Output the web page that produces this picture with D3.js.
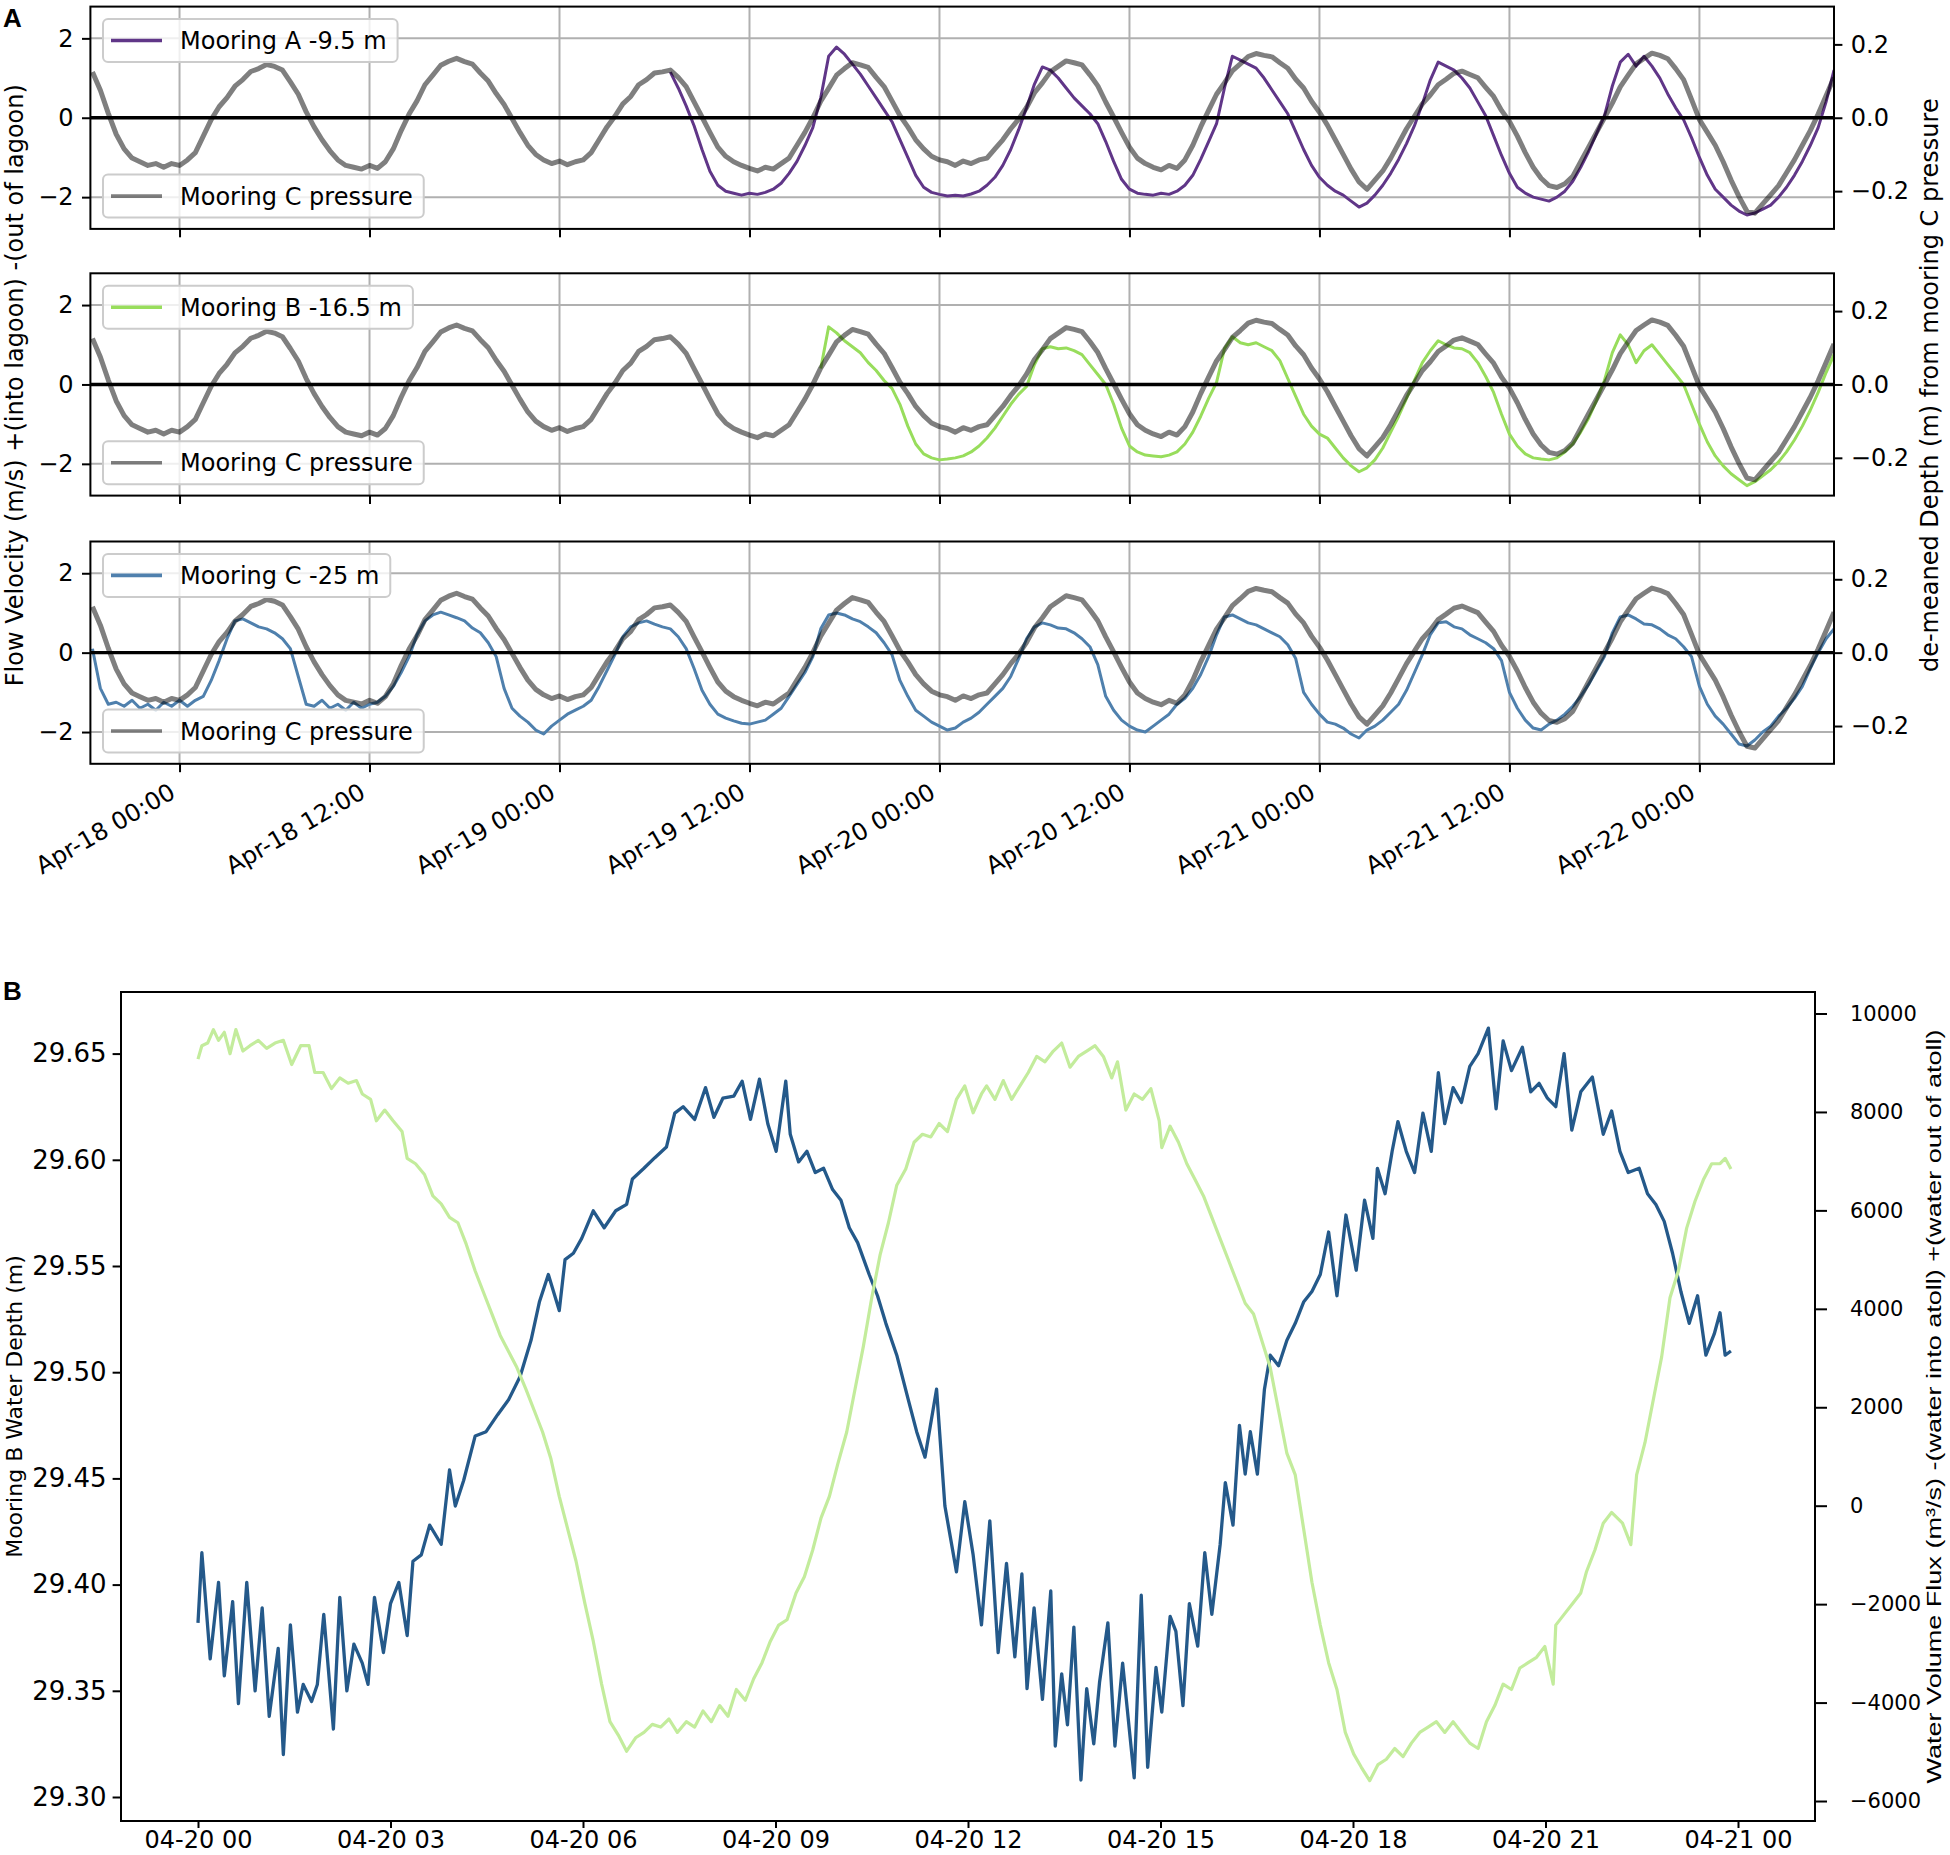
<!DOCTYPE html>
<html>
<head>
<meta charset="utf-8">
<script src="https://cdn.jsdelivr.net/npm/d3@7"></script>
<style>
  body { margin: 0; background: #fff; }
  text { font-family: "DejaVu Sans", sans-serif; }
</style>
</head>
<body>
<svg id="fig" width="1950" height="1855"></svg>
<script>
// ---- panel A data: half-hourly samples, hours counted from Apr-18 00:00 ----
const stepA = 0.5;
const pressureStart = -5.5;
const pressureC = [
  0.125, 0.075, 0.012, -0.045, -0.085, -0.11, -0.12, -0.13, -0.125, -0.135, -0.125,
  -0.13, -0.115, -0.095, -0.05, -0.005, 0.03, 0.055, 0.086, 0.104, 0.126, 0.134,
  0.145, 0.14, 0.13, 0.098, 0.064, 0.016, -0.025, -0.06, -0.09, -0.115, -0.13,
  -0.135, -0.14, -0.13, -0.138, -0.12, -0.085, -0.035, 0.01, 0.046, 0.09, 0.116,
  0.143, 0.154, 0.162, 0.153, 0.146, 0.122, 0.1, 0.066, 0.036, -0.002, -0.04,
  -0.075, -0.1, -0.115, -0.125, -0.118, -0.128, -0.12, -0.115, -0.095, -0.06, -0.025,
  0.004, 0.038, 0.058, 0.09, 0.104, 0.122, 0.125, 0.13, 0.11, 0.085, 0.043,
  0.002, -0.04, -0.08, -0.105, -0.12, -0.13, -0.138, -0.145, -0.135, -0.14, -0.125,
  -0.11, -0.075, -0.04, 0.0, 0.045, 0.08, 0.116, 0.134, 0.15, 0.144, 0.137,
  0.11, 0.085, 0.046, 0.006, -0.025, -0.06, -0.085, -0.105, -0.115, -0.12, -0.13,
  -0.118, -0.125, -0.115, -0.11, -0.085, -0.06, -0.03, -0.004, 0.028, 0.068, 0.095,
  0.125, 0.14, 0.155, 0.15, 0.144, 0.117, 0.087, 0.043, 0.002, -0.04, -0.08,
  -0.11, -0.125, -0.135, -0.142, -0.13, -0.138, -0.115, -0.075, -0.025, 0.02, 0.064,
  0.095, 0.128, 0.147, 0.167, 0.175, 0.17, 0.166, 0.15, 0.135, 0.105, 0.081,
  0.045, 0.015, -0.02, -0.06, -0.1, -0.14, -0.175, -0.195, -0.17, -0.145, -0.11,
  -0.07, -0.03, 0.004, 0.038, 0.062, 0.09, 0.105, 0.121, 0.127, 0.118, 0.109,
  0.083, 0.058, 0.02, -0.01, -0.05, -0.095, -0.135, -0.165, -0.185, -0.19, -0.18,
  -0.16, -0.12, -0.08, -0.04, 0.0, 0.04, 0.084, 0.116, 0.147, 0.162, 0.176,
  0.17, 0.161, 0.134, 0.104, 0.05, -0.005, -0.04, -0.075, -0.12, -0.17, -0.215,
  -0.255, -0.26, -0.235, -0.21, -0.185, -0.15, -0.115, -0.075, -0.035, 0.01, 0.06, 0.11
];

const velocityAStart = 31.0;
const velocityA = [
  1.15, 0.75, 0.3, -0.2, -0.8, -1.35, -1.7, -1.85, -1.9, -1.95, -1.9, -1.93, -1.88,
  -1.8, -1.65, -1.4, -1.1, -0.7, -0.25, 0.5, 1.55, 1.78, 1.6, 1.35, 1.1, 0.8,
  0.5, 0.2, -0.1, -0.55, -1.0, -1.45, -1.75, -1.88, -1.93, -1.97, -1.95, -1.97, -1.92,
  -1.85, -1.7, -1.5, -1.2, -0.8, -0.3, 0.25, 0.85, 1.28, 1.2, 1.0, 0.75, 0.5,
  0.3, 0.1, -0.15, -0.6, -1.1, -1.55, -1.8, -1.9, -1.93, -1.95, -1.9, -1.93, -1.85,
  -1.7, -1.45, -1.05, -0.6, -0.15, 0.75, 1.55, 1.45, 1.35, 1.25, 1.0, 0.7, 0.4,
  0.1, -0.35, -0.8, -1.2, -1.5, -1.7, -1.85, -1.95, -2.1, -2.25, -2.15, -1.95, -1.7,
  -1.4, -1.05, -0.65, -0.2, 0.35, 0.95, 1.4, 1.3, 1.2, 1.0, 0.75, 0.4, 0.05,
  -0.45, -0.95, -1.4, -1.75, -1.9, -2.0, -2.05, -2.1, -2.0, -1.85, -1.6, -1.25, -0.85,
  -0.4, 0.05, 0.8, 1.4, 1.6, 1.3, 1.55, 1.3, 1.0, 0.6, 0.25, -0.05, -0.5,
  -1.0, -1.45, -1.8, -2.0, -2.2, -2.35, -2.45, -2.4, -2.3, -2.2, -2.0, -1.75, -1.45,
  -1.1, -0.7, -0.25, 0.4, 1.2
];

const velocityBStart = 40.5;
const velocityB = [
  0.4, 1.45, 1.3, 1.1, 0.95, 0.8, 0.55, 0.35, 0.1, -0.1, -0.5, -1.05, -1.5,
  -1.75, -1.85, -1.9, -1.88, -1.85, -1.8, -1.7, -1.55, -1.35, -1.1, -0.8, -0.5, -0.25,
  -0.05, 0.5, 0.9, 0.95, 0.9, 0.92, 0.85, 0.75, 0.5, 0.25, 0.0, -0.5, -1.1,
  -1.55, -1.7, -1.78, -1.8, -1.82, -1.78, -1.7, -1.5, -1.2, -0.8, -0.35, 0.05, 0.9,
  1.2, 1.05, 1.0, 1.05, 0.95, 0.85, 0.6, 0.15, -0.3, -0.75, -1.05, -1.25, -1.35,
  -1.6, -1.85, -2.05, -2.2, -2.1, -1.9, -1.6, -1.2, -0.8, -0.35, 0.1, 0.55, 0.85,
  1.1, 1.0, 0.92, 0.9, 0.8, 0.55, 0.2, -0.2, -0.75, -1.25, -1.55, -1.75, -1.85,
  -1.88, -1.9, -1.85, -1.7, -1.5, -1.2, -0.85, -0.4, 0.1, 0.8, 1.25, 1.0, 0.55,
  0.85, 1.0, 0.75, 0.5, 0.25, 0.0, -0.5, -1.0, -1.45, -1.8, -2.05, -2.25, -2.4,
  -2.55, -2.45, -2.3, -2.15, -1.95, -1.7, -1.4, -1.05, -0.65, -0.2, 0.3, 0.75
];

const velocityCStart = -5.5;
const velocityC = [
  0.1, -0.9, -1.3, -1.25, -1.35, -1.2, -1.4, -1.3, -1.45, -1.25, -1.35, -1.2, -1.35,
  -1.2, -1.1, -0.7, -0.2, 0.35, 0.8, 0.85, 0.75, 0.65, 0.6, 0.5, 0.35, 0.1,
  -0.6, -1.3, -1.35, -1.2, -1.4, -1.3, -1.45, -1.25, -1.4, -1.3, -1.25, -1.1, -0.85,
  -0.5, -0.1, 0.45, 0.8, 0.95, 1.02, 0.95, 0.88, 0.8, 0.62, 0.5, 0.25, -0.1,
  -0.9, -1.4, -1.6, -1.75, -1.95, -2.05, -1.85, -1.7, -1.55, -1.45, -1.35, -1.2, -0.85,
  -0.45, -0.05, 0.4, 0.65, 0.75, 0.8, 0.72, 0.65, 0.6, 0.4, 0.1, -0.4, -0.95,
  -1.3, -1.55, -1.65, -1.72, -1.78, -1.8, -1.75, -1.7, -1.55, -1.4, -1.1, -0.8, -0.5,
  -0.1, 0.6, 0.95, 1.0, 0.95, 0.85, 0.78, 0.65, 0.5, 0.25, -0.05, -0.7, -1.1,
  -1.45, -1.6, -1.75, -1.85, -1.95, -1.9, -1.75, -1.65, -1.5, -1.3, -1.1, -0.9, -0.6,
  -0.15, 0.35, 0.65, 0.75, 0.7, 0.62, 0.6, 0.5, 0.35, 0.15, -0.3, -1.1, -1.45,
  -1.7, -1.85, -1.95, -2.0, -1.85, -1.7, -1.55, -1.3, -1.15, -0.9, -0.55, -0.1, 0.45,
  0.9, 0.95, 0.85, 0.75, 0.7, 0.6, 0.5, 0.4, 0.2, -0.15, -1.0, -1.3, -1.55,
  -1.75, -1.8, -1.9, -2.05, -2.15, -1.95, -1.85, -1.7, -1.5, -1.3, -0.95, -0.5, -0.05,
  0.45, 0.75, 0.78, 0.65, 0.6, 0.45, 0.35, 0.25, 0.1, -0.2, -1.0, -1.4, -1.7,
  -1.9, -1.95, -1.8, -1.7, -1.55, -1.35, -1.1, -0.8, -0.45, -0.1, 0.5, 0.9, 0.95,
  0.85, 0.72, 0.7, 0.6, 0.45, 0.35, 0.15, -0.1, -0.85, -1.3, -1.6, -1.8, -2.05,
  -2.3, -2.35, -2.2, -2.0, -1.85, -1.6, -1.4, -1.15, -0.85, -0.4, 0.0, 0.35, 0.6
];

const velocityTicks = [-2, 0, 2];
const pressureTicks = [-0.2, 0, 0.2];

// ---- panel B data: hours from 04-20 00 ----
const depthTime = [
  0, 0.06, 0.19, 0.32, 0.41, 0.54, 0.63, 0.76, 0.89, 1.0, 1.11, 1.25, 1.33, 1.44, 1.55,
  1.64, 1.77, 1.86, 1.96, 2.11, 2.21, 2.32, 2.43, 2.56, 2.65, 2.75, 2.89, 3.0, 3.13, 3.26,
  3.35, 3.48, 3.61, 3.79, 3.92, 4.01, 4.14, 4.32, 4.49, 4.67, 4.84, 5.02, 5.19, 5.32, 5.46,
  5.63, 5.72, 5.85, 5.98, 6.16, 6.33, 6.51, 6.68, 6.77, 6.95, 7.12, 7.3, 7.43, 7.56, 7.74,
  7.91, 8.04, 8.18, 8.35, 8.48, 8.61, 8.75, 8.88, 9.01, 9.16, 9.23, 9.36, 9.49, 9.62, 9.75,
  9.89, 10.02, 10.15, 10.28, 10.46, 10.59, 10.72, 10.89, 11.07, 11.2, 11.33, 11.51, 11.64,
  11.82, 11.95, 12.08, 12.21, 12.34, 12.47, 12.6, 12.73, 12.84, 12.92,
  13.03, 13.16, 13.29, 13.36, 13.46, 13.55, 13.65, 13.76, 13.85, 13.96,
  14.05, 14.18, 14.29, 14.41, 14.59, 14.7, 14.8, 14.93,
  15.02, 15.15, 15.24, 15.35, 15.45, 15.58, 15.69, 15.8, 15.93,
  16.01, 16.13, 16.23, 16.32, 16.4, 16.51, 16.62, 16.71, 16.84, 16.97,
  17.1, 17.23, 17.36, 17.49, 17.62, 17.75, 17.89,
  18.05, 18.18, 18.31, 18.38, 18.5, 18.61, 18.7, 18.83, 18.96,
  19.09, 19.22, 19.33, 19.43, 19.56, 19.69, 19.82, 19.95,
  20.11, 20.23, 20.34, 20.47, 20.64, 20.77, 20.9,
  21.03, 21.16, 21.29, 21.41, 21.55, 21.73, 21.9,
  22.03, 22.16, 22.29, 22.46, 22.59, 22.72, 22.85, 22.98,
  23.11, 23.24, 23.37, 23.5, 23.63, 23.72, 23.8, 23.89
];
const depthB = [
  29.382, 29.415, 29.365, 29.401, 29.357, 29.392, 29.344, 29.401, 29.35, 29.389,
  29.338, 29.37, 29.32, 29.381, 29.34, 29.353, 29.345, 29.353, 29.386, 29.332,
  29.394, 29.35, 29.372, 29.363, 29.353, 29.394, 29.368, 29.391, 29.401, 29.376,
  29.411, 29.414, 29.428, 29.419, 29.454, 29.437, 29.449, 29.47, 29.472, 29.48,
  29.487, 29.498, 29.515, 29.533, 29.546, 29.529, 29.553, 29.556, 29.563, 29.576,
  29.568, 29.576, 29.579, 29.591, 29.596, 29.601, 29.606, 29.622, 29.625, 29.619,
  29.634, 29.62, 29.629, 29.63, 29.637, 29.619, 29.638, 29.617, 29.604, 29.637,
  29.612, 29.599, 29.604, 29.594, 29.596, 29.586, 29.581, 29.568, 29.561, 29.546,
  29.536, 29.523, 29.508, 29.487, 29.472, 29.46, 29.492, 29.437,
  29.406, 29.439, 29.414, 29.381, 29.43, 29.368, 29.41, 29.366, 29.405, 29.351,
  29.389, 29.346, 29.397, 29.324, 29.358, 29.334, 29.38, 29.308, 29.351, 29.325,
  29.354, 29.382, 29.324, 29.363, 29.309, 29.395, 29.314, 29.361,
  29.34, 29.385, 29.378, 29.343, 29.391, 29.371, 29.415, 29.386, 29.419,
  29.448, 29.428, 29.475, 29.452, 29.472, 29.452, 29.492, 29.508, 29.503, 29.515,
  29.523, 29.533, 29.538, 29.546, 29.566, 29.536, 29.574,
  29.548, 29.581, 29.563, 29.596, 29.584, 29.604, 29.618, 29.604, 29.594,
  29.622, 29.604, 29.641, 29.617, 29.634, 29.627, 29.644, 29.65,
  29.662, 29.624, 29.656, 29.642, 29.653, 29.632, 29.636,
  29.629, 29.625, 29.65, 29.614, 29.632, 29.639, 29.612,
  29.623, 29.604, 29.594, 29.596, 29.584, 29.579, 29.571, 29.556,
  29.538, 29.523, 29.536, 29.508, 29.518, 29.528, 29.508, 29.51
];

const fluxTime = [
  0, 0.06, 0.15, 0.24, 0.32, 0.41, 0.5, 0.59, 0.7, 0.81, 0.94, 1.07, 1.2, 1.33,
  1.46, 1.6, 1.73, 1.82, 1.95, 2.08, 2.21, 2.34, 2.47, 2.56, 2.69, 2.78,
  2.91, 3.04, 3.18, 3.26, 3.39, 3.53, 3.66, 3.79, 3.92, 4.05,
  4.18, 4.32, 4.45, 4.58, 4.71, 4.84, 4.97, 5.11, 5.24, 5.37,
  5.5, 5.63, 5.76, 5.89, 6.03, 6.16, 6.29, 6.42, 6.55, 6.68,
  6.82, 6.95, 7.08, 7.21, 7.34, 7.47, 7.61, 7.74, 7.87, 8.0,
  8.13, 8.26, 8.39, 8.53, 8.66, 8.79, 8.92, 9.05, 9.18, 9.32,
  9.45, 9.58, 9.71, 9.84, 9.97, 10.11, 10.24, 10.37, 10.5, 10.63,
  10.76, 10.89, 11.03, 11.16, 11.29, 11.42, 11.55, 11.68,
  11.82, 11.95, 12.08, 12.21, 12.29, 12.42, 12.55, 12.68, 12.81, 12.94,
  13.07, 13.2, 13.33, 13.46, 13.59, 13.72, 13.85, 13.98, 14.11, 14.24,
  14.33, 14.46, 14.59, 14.72, 14.85, 14.98, 15.02, 15.15, 15.28, 15.41,
  15.54, 15.67, 15.8, 15.93, 16.06, 16.19, 16.32, 16.45, 16.58, 16.71,
  16.84, 16.97, 17.1, 17.23, 17.36, 17.49, 17.62, 17.75, 17.88, 18.01,
  18.13, 18.26, 18.39, 18.52, 18.65, 18.78, 18.91, 19.04, 19.17, 19.3,
  19.43, 19.56, 19.69, 19.82, 19.95, 20.08, 20.21, 20.34, 20.47, 20.6,
  20.73, 20.86, 20.99, 21.12, 21.16, 21.29, 21.42, 21.55, 21.64, 21.77,
  21.9, 22.03, 22.2, 22.33, 22.42, 22.55, 22.68, 22.81, 22.94, 23.07,
  23.2, 23.33, 23.46, 23.59, 23.72, 23.8, 23.89
];
const fluxB = [
  9074, 9346, 9400, 9673, 9455, 9618, 9183, 9673, 9237, 9346, 9455, 9292, 9400, 9455,
  8964, 9346, 9346, 8801, 8801, 8474, 8692, 8583, 8638, 8365, 8256, 7820,
  8038, 7820, 7602, 7057, 6948, 6730, 6294, 6131, 5858, 5749,
  5313, 4768, 4332, 3896, 3460, 3133, 2806, 2370, 1934, 1498,
  953, 190, -464, -1118, -1990, -2753, -3625, -4388, -4660, -4988,
  -4715, -4606, -4443, -4497, -4334, -4606, -4388, -4497, -4170, -4388,
  -4061, -4279, -3734, -3952, -3516, -3189, -2753, -2426, -2317, -1772,
  -1445, -900, -246, 190, 844, 1498, 2370, 3242, 4223, 5095,
  5749, 6512, 6839, 7384, 7547, 7493, 7765, 7602,
  8256, 8529, 7984, 8365, 8529, 8256, 8638, 8256, 8529, 8801,
  9128, 9019, 9237, 9400, 8910, 9128, 9237, 9346, 9128, 8692,
  9019, 8038, 8365, 8256, 8474, 7820, 7275, 7711, 7384, 6948,
  6621, 6294, 5858, 5422, 4986, 4550, 4114, 3896, 3351, 2806,
  1934, 1062, 626, -464, -1554, -2426, -3189, -3734, -4606, -5042,
  -5315, -5587, -5260, -5151, -4933, -5097, -4824, -4606, -4497, -4388,
  -4606, -4388, -4606, -4824, -4933, -4388, -4061, -3625, -3734, -3298,
  -3189, -3080, -2862, -3625, -2426, -2208, -1990, -1772, -1336, -900,
  -355, -137, -355, -791, 626, 1280, 2152, 3024, 4223, 4768,
  5640, 6185, 6621, 6948, 6948, 7057, 6839
];

const depthTicks = [29.30, 29.35, 29.40, 29.45, 29.50, 29.55, 29.60, 29.65];
const fluxTicks = [-6000, -4000, -2000, 0, 2000, 4000, 6000, 8000, 10000];

// ---- helpers ----
const baseA = new Date(2018, 3, 18, 0, 0);
const baseB = new Date(2018, 3, 20, 0, 0);
const atHour = (base, h) => new Date(base.getTime() + h * 3600e3);
const regular = (start, values) => values.map((v, i) => ({ t: atHour(baseA, start + i * stepA), v }));

const svg = d3.select("#fig");
svg.append("rect").attr("width", 1950).attr("height", 1855).attr("fill", "#fff");

const FS = 24;
const TICK = 8.4;

function styleAxis(g, size) {
  g.select(".domain").remove();
  g.selectAll(".tick line").attr("stroke", "#000").attr("stroke-width", 2);
  g.selectAll(".tick text")
    .attr("fill", "#000")
    .style("font-family", "DejaVu Sans")
    .style("font-size", size + "px");
}

function legend(g, x, y, color, opacity, label) {
  const lg = g.append("g").attr("transform", `translate(${x},${y})`);
  const box = lg.append("rect");
  lg.append("line")
    .attr("x1", 8).attr("x2", 59).attr("y1", 21.5).attr("y2", 21.5)
    .attr("stroke", color).attr("stroke-opacity", opacity).attr("stroke-width", 3.6);
  const t = lg.append("text")
    .attr("x", 77).attr("y", 30)
    .style("font-size", FS + "px")
    .text(label);
  const w = t.node().getComputedTextLength();
  box.attr("width", 77 + w + 11).attr("height", 43).attr("rx", 5)
    .attr("fill", "#fff").attr("fill-opacity", 0.8)
    .attr("stroke", "#cccccc").attr("stroke-width", 2);
}

// ---- panel A ----
const A = { left: 90.4, right: 1834, tops: [6.6, 273.3, 541.5], h: 222.3 };
const xA = d3.scaleTime()
  .domain([atHour(baseA, -5.63), atHour(baseA, 104.5)])
  .range([A.left, A.right]);
const timeTicksA = xA.ticks(d3.timeHour.every(12));

const pressureData = regular(pressureStart, pressureC);
const subplots = [
  { data: regular(velocityAStart, velocityA), color: "#603688", label: "Mooring A -9.5 m" },
  { data: regular(velocityBStart, velocityB), color: "#98dd5c", label: "Mooring B -16.5 m" },
  { data: regular(velocityCStart, velocityC), color: "#4f80ad", label: "Mooring C -25 m" }
];

subplots.forEach((sp, i) => {
  const top = A.tops[i], bottom = top + A.h;
  const yL = d3.scaleLinear().domain([-2.8, 2.8]).range([bottom, top]);
  const yR = d3.scaleLinear().domain([-0.303, 0.303]).range([bottom, top]);
  const g = svg.append("g");

  const clipId = "clipA" + i;
  svg.append("clipPath").attr("id", clipId).append("rect")
    .attr("x", A.left).attr("y", top).attr("width", A.right - A.left).attr("height", A.h);

  // grid
  g.append("g").selectAll("line").data(timeTicksA).join("line")
    .attr("x1", d => xA(d)).attr("x2", d => xA(d)).attr("y1", top).attr("y2", bottom)
    .attr("stroke", "#b0b0b0").attr("stroke-width", 2);
  g.append("g").selectAll("line").data(velocityTicks).join("line")
    .attr("x1", A.left).attr("x2", A.right).attr("y1", d => yL(d)).attr("y2", d => yL(d))
    .attr("stroke", "#b0b0b0").attr("stroke-width", 2);

  const plot = g.append("g").attr("clip-path", `url(#${clipId})`);
  plot.append("path").datum(sp.data)
    .attr("fill", "none").attr("stroke", sp.color).attr("stroke-width", 3)
    .attr("stroke-linejoin", "round")
    .attr("d", d3.line().x(d => xA(d.t)).y(d => yL(d.v)));
  plot.append("line")
    .attr("x1", A.left).attr("x2", A.right).attr("y1", yL(0)).attr("y2", yL(0))
    .attr("stroke", "#000").attr("stroke-width", 3.4);
  plot.append("path").datum(pressureData)
    .attr("fill", "none").attr("stroke", "#000").attr("stroke-opacity", 0.5)
    .attr("stroke-width", 5).attr("stroke-linejoin", "round")
    .attr("d", d3.line().x(d => xA(d.t)).y(d => yR(d.v)));

  // axes
  const ax = g.append("g").attr("transform", `translate(${A.left},0)`)
    .call(d3.axisLeft(yL).tickValues(velocityTicks).tickFormat(d3.format("d"))
      .tickSize(TICK).tickPadding(TICK).tickSizeOuter(0));
  styleAxis(ax, FS);
  const axR = g.append("g").attr("transform", `translate(${A.right},0)`)
    .call(d3.axisRight(yR).tickValues(pressureTicks).tickFormat(d3.format(".1f"))
      .tickSize(TICK).tickPadding(TICK).tickSizeOuter(0));
  styleAxis(axR, FS);
  const axB = g.append("g").attr("transform", `translate(0,${bottom})`)
    .call(d3.axisBottom(xA).tickValues(timeTicksA)
      .tickFormat(i === 2 ? d3.timeFormat("%b-%d %H:%M") : () => "")
      .tickSize(TICK).tickSizeOuter(0));
  styleAxis(axB, FS);
  if (i === 2) {
    axB.selectAll(".tick text")
      .attr("text-anchor", "end").attr("x", -3).attr("y", 33).attr("dy", null)
      .attr("transform", "rotate(-30 -3 33)");
  }

  g.append("rect")
    .attr("x", A.left).attr("y", top).attr("width", A.right - A.left).attr("height", A.h)
    .attr("fill", "none").attr("stroke", "#000").attr("stroke-width", 2);

  legend(g, A.left + 12.6, top + 12.4, sp.color, 1, sp.label);
  legend(g, A.left + 12.6, bottom - 11.3 - 43, "#000", 0.5, "Mooring C pressure");
});

svg.append("text")
  .attr("transform", `translate(23,${(A.tops[0] + A.tops[2] + A.h) / 2}) rotate(-90)`)
  .attr("text-anchor", "middle").style("font-size", FS + "px")
  .text("Flow Velocity (m/s) +(into lagoon) -(out of lagoon)");
svg.append("text")
  .attr("transform", `translate(1938,${(A.tops[0] + A.tops[2] + A.h) / 2}) rotate(-90)`)
  .attr("text-anchor", "middle").style("font-size", FS + "px")
  .text("de-meaned Depth (m) from mooring C pressure");

svg.append("text").attr("x", 3).attr("y", 27)
  .style("font-family", "Liberation Sans").style("font-weight", "bold").style("font-size", "26px")
  .text("A");

// ---- panel B ----
const B = { left: 121, right: 1815, top: 992, bottom: 1821 };
const xB = d3.scaleTime()
  .domain([atHour(baseB, -1.2), atHour(baseB, 25.2)])
  .range([B.left, B.right]);
const yBL = d3.scaleLinear().domain([29.2887, 29.679]).range([B.bottom, B.top]);
const yBR = d3.scaleLinear().domain([-6406, 10437]).range([B.bottom, B.top]);

const gB = svg.append("g");
const depthData = d3.zip(depthTime, depthB).map(([t, v]) => ({ t: atHour(baseB, t), v }));
const fluxData = d3.zip(fluxTime, fluxB).map(([t, v]) => ({ t: atHour(baseB, t), v }));

gB.append("path").datum(depthData)
  .attr("fill", "none").attr("stroke", "#24598a").attr("stroke-width", 3.3)
  .attr("stroke-linejoin", "round")
  .attr("d", d3.line().x(d => xB(d.t)).y(d => yBL(d.v)));
gB.append("path").datum(fluxData)
  .attr("fill", "none").attr("stroke", "#c3ec9c").attr("stroke-width", 3.2)
  .attr("stroke-linejoin", "round")
  .attr("d", d3.line().x(d => xB(d.t)).y(d => yBR(d.v)));

const bx = gB.append("g").attr("transform", `translate(0,${B.bottom})`)
  .call(d3.axisBottom(xB).ticks(d3.timeHour.every(3)).tickFormat(d3.timeFormat("%m-%d %H"))
    .tickSize(7).tickPadding(3).tickSizeOuter(0));
styleAxis(bx, 24);
const by = gB.append("g").attr("transform", `translate(${B.left},0)`)
  .call(d3.axisLeft(yBL).tickValues(depthTicks).tickFormat(d3.format(".2f"))
    .tickSize(TICK).tickPadding(6).tickSizeOuter(0));
styleAxis(by, 26);
const byR = gB.append("g").attr("transform", `translate(${B.right},0)`)
  .call(d3.axisRight(yBR).tickValues(fluxTicks).tickFormat(d3.format("d"))
    .tickSize(12).tickPadding(23).tickSizeOuter(0));
styleAxis(byR, 21);

gB.append("rect")
  .attr("x", B.left).attr("y", B.top).attr("width", B.right - B.left).attr("height", B.bottom - B.top)
  .attr("fill", "none").attr("stroke", "#000").attr("stroke-width", 2);

svg.append("text")
  .attr("transform", `translate(22,${(B.top + B.bottom) / 2}) rotate(-90)`)
  .attr("text-anchor", "middle").style("font-size", "22px")
  .text("Mooring B Water Depth (m)");
svg.append("text")
  .attr("transform", `translate(1941,${(B.top + B.bottom) / 2}) rotate(-90)`)
  .attr("text-anchor", "middle")
  .style("font-family", "'Liberation Sans Narrow', 'Liberation Sans', sans-serif")
  .style("font-size", "21px")
  .attr("textLength", 754).attr("lengthAdjust", "spacingAndGlyphs")
  .text("Water Volume Flux (m³/s) -(water into atoll) +(water out of atoll)");

svg.append("text").attr("x", 3).attr("y", 1000)
  .style("font-family", "Liberation Sans").style("font-weight", "bold").style("font-size", "26px")
  .text("B");
</script>
</body>
</html>
